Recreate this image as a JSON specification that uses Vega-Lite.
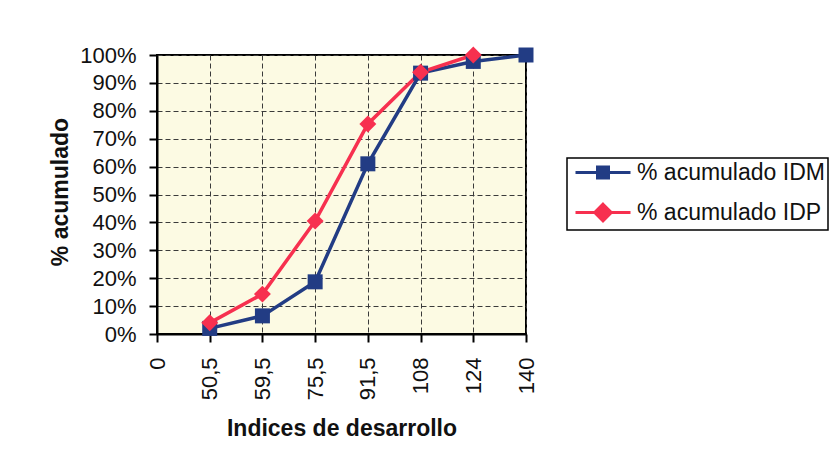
{
  "$schema": "https://vega.github.io/schema/vega-lite/v6.json",
  "width": 369,
  "height": 279,
  "autosize": {"type": "none"},
  "padding": {"left": 157, "top": 55, "right": 314, "bottom": 133},
  "background": "white",
  "config": {
    "font": "Liberation Sans",
    "view": {"fill": "#FCFAE3", "stroke": "black", "strokeWidth": 2},
    "axis": {
      "domainColor": "black",
      "domainWidth": 2,
      "tickColor": "black",
      "tickWidth": 2,
      "tickSize": 8,
      "labelColor": "#111111",
      "titleColor": "#111111",
      "gridColor": "#3a3a3a",
      "gridDash": [5, 3],
      "gridWidth": 1,
      "labelFont": "Liberation Sans",
      "labelFontSize": 22,
      "titleFont": "Liberation Sans",
      "titleFontSize": 23,
      "titleFontWeight": "bold"
    }
  },
  "data": {
    "values": [
      {"indice": "50,5", "serie": "% acumulado IDM", "pct": 0.02},
      {"indice": "59,5", "serie": "% acumulado IDM", "pct": 0.065},
      {"indice": "75,5", "serie": "% acumulado IDM", "pct": 0.187},
      {"indice": "91,5", "serie": "% acumulado IDM", "pct": 0.61},
      {"indice": "108", "serie": "% acumulado IDM", "pct": 0.935},
      {"indice": "124", "serie": "% acumulado IDM", "pct": 0.977},
      {"indice": "140", "serie": "% acumulado IDM", "pct": 1.0},
      {"indice": "50,5", "serie": "% acumulado IDP", "pct": 0.04},
      {"indice": "59,5", "serie": "% acumulado IDP", "pct": 0.143},
      {"indice": "75,5", "serie": "% acumulado IDP", "pct": 0.405},
      {"indice": "91,5", "serie": "% acumulado IDP", "pct": 0.753},
      {"indice": "108", "serie": "% acumulado IDP", "pct": 0.938},
      {"indice": "124", "serie": "% acumulado IDP", "pct": 1.0}
    ]
  },
  "encoding": {
    "x": {
      "field": "indice",
      "type": "ordinal",
      "sort": null,
      "scale": {"type": "point", "domain": ["0", "50,5", "59,5", "75,5", "91,5", "108", "124", "140"], "padding": 0},
      "axis": {
        "title": "Indices de desarrollo",
        "labelAngle": -90,
        "labelPadding": 15,
        "grid": true,
        "titleY": 101,
        "titleBaseline": "alphabetic"
      }
    },
    "y": {
      "field": "pct",
      "type": "quantitative",
      "scale": {"domain": [0, 1], "nice": false},
      "axis": {
        "title": "% acumulado",
        "format": ".0%",
        "values": [0, 0.1, 0.2, 0.3, 0.4, 0.5, 0.6, 0.7, 0.8, 0.9, 1.0],
        "grid": true,
        "labelPadding": 13,
        "titleX": -90,
        "titleY": 136.5,
        "titleAngle": -90,
        "titleBaseline": "alphabetic",
        "titleAlign": "center"
      }
    }
  },
  "layer": [
    {
      "mark": {"type": "line", "strokeWidth": 3.5},
      "encoding": {
        "stroke": {
          "field": "serie",
          "type": "nominal",
          "scale": {"domain": ["% acumulado IDM", "% acumulado IDP"], "range": ["#223C84", "#F7304F"]},
          "legend": null
        }
      }
    },
    {
      "mark": {"type": "point", "filled": true, "opacity": 1, "size": 225},
      "encoding": {
        "shape": {
          "field": "serie",
          "type": "nominal",
          "scale": {"domain": ["% acumulado IDM", "% acumulado IDP"], "range": ["square", "M0,-1.13L1.13,0L0,1.13L-1.13,0Z"]},
          "legend": null
        },
        "color": {
          "field": "serie",
          "type": "nominal",
          "scale": {"range": ["#223C84", "#F7304F"]},
          "legend": {
            "orient": "none",
            "legendX": 410,
            "legendY": 103,
            "title": null,
            "strokeColor": "black",
            "fillColor": "white",
            "padding": 3,
            "rowPadding": 13,
            "labelFont": "Liberation Sans",
            "labelFontSize": 23,
            "labelColor": "#111111",
            "labelOffset": 22.5,
            "labelLimit": 0,
            "symbolSize": 400,
            "symbolOffset": 21.5,
            "symbolStrokeWidth": 3,
            "symbolType": {"expr": "datum.value === '% acumulado IDM' ? 'M-2.75,0H2.75M-0.55,-0.55H0.55V0.55H-0.55Z' : 'M-2.75,0H2.75M0,-0.83L0.83,0L0,0.83L-0.83,0Z'"},
            "encoding": {
              "legend": {"strokeWidth": {"value": 1.5}},
              "symbols": {
                "shape": {"condition": {"test": "datum.value === '% acumulado IDM'", "value": "M-2.75,0H2.75M-0.55,-0.55H0.55V0.55H-0.55Z"}, "value": "M-2.75,0H2.75M0,-0.83L0.83,0L0,0.83L-0.83,0Z"},
                "stroke": {"condition": {"test": "datum.value === '% acumulado IDM'", "value": "#223C84"}, "value": "#F7304F"},
                "strokeWidth": {"value": 3},
                "strokeOpacity": {"value": 1},
                "fillOpacity": {"value": 1}
              }
            }
          }
        }
      }
    }
  ]
}
